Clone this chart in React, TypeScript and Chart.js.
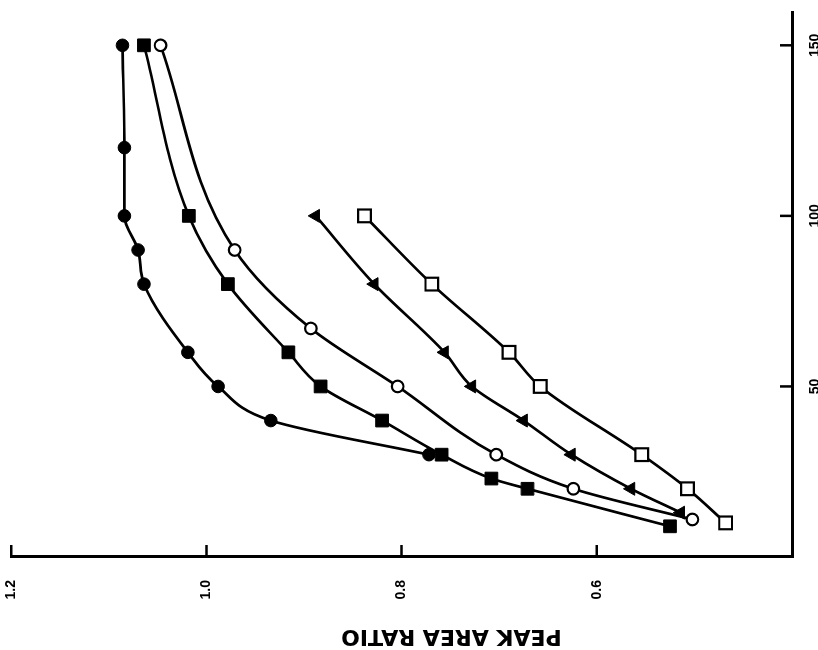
import React, { useEffect, useRef } from 'react';
import { Chart, registerables } from 'chart.js';

Chart.register(...registerables);

// Tick labels
const ratioTicks = [0.6, 0.8, 1.0, 1.2];
const timeTicks = [50, 100, 150];
const axisTitle = 'PEAK AREA RATIO';

// Series (time, peak area ratio)
const filledCircleTime = [30, 40, 50, 60, 80, 90, 100, 120, 150];
const filledCircleRatio = [0.772, 0.934, 0.988, 1.019, 1.064, 1.07, 1.084, 1.084, 1.086];

const filledSquareTime = [9, 20, 23, 30, 40, 50, 60, 80, 100, 150];
const filledSquareRatio = [0.525, 0.671, 0.708, 0.759, 0.82, 0.883, 0.916, 0.978, 1.018, 1.064];

const openCircleTime = [11, 20, 30, 50, 67, 90, 150];
const openCircleRatio = [0.502, 0.624, 0.703, 0.804, 0.893, 0.971, 1.047];

const triangleTime = [13, 20, 30, 40, 50, 60, 80, 100];
const triangleRatio = [0.514, 0.565, 0.626, 0.675, 0.728, 0.756, 0.828, 0.888];

const openSquareTime = [10, 20, 30, 50, 60, 80, 100];
const openSquareRatio = [0.468, 0.507, 0.554, 0.658, 0.69, 0.769, 0.838];

const pts = (t: number[], r: number[]) => t.map((x, i) => ({ x, y: r[i] }));

// Inward tick marks on both axes, placed through the scales
const inwardTicks = {
  id: 'inwardTicks',
  afterDatasetsDraw(chart: any) {
    const ctx = chart.ctx;
    const area = chart.chartArea;
    const xs = chart.scales.x;
    const ys = chart.scales.y;
    ctx.save();
    ctx.strokeStyle = '#000';
    ctx.lineWidth = 2.5;
    ctx.beginPath();
    timeTicks.forEach((v) => {
      const px = xs.getPixelForValue(v);
      ctx.moveTo(px, area.bottom);
      ctx.lineTo(px, area.bottom - 12);
    });
    ratioTicks.forEach((v) => {
      const py = ys.getPixelForValue(v);
      ctx.moveTo(area.left, py);
      ctx.lineTo(area.left + 12, py);
    });
    ctx.stroke();
    ctx.restore();
  },
};

export default function App() {
  const ref = useRef<HTMLCanvasElement>(null);

  useEffect(() => {
    const canvas = ref.current;
    if (!canvas) return;
    const base: any = {
      borderColor: '#000',
      borderWidth: 2.7,
      cubicInterpolationMode: 'monotone',
      pointBorderColor: '#000',
      pointHoverRadius: 0,
      fill: false,
    };
    const tickFont = { family: '"Liberation Sans", Arial, sans-serif', weight: 'bold' as const, size: 14 };
    const chart = new Chart(canvas, {
      type: 'line',
      data: {
        datasets: [
          { ...base, label: 'filled circle', data: pts(filledCircleTime, filledCircleRatio), pointStyle: 'circle', pointRadius: 6.3, pointBackgroundColor: '#000', pointBorderWidth: 1 },
          { ...base, label: 'filled square', data: pts(filledSquareTime, filledSquareRatio), pointStyle: 'rect', pointRadius: 9, pointBackgroundColor: '#000', pointBorderWidth: 1 },
          { ...base, label: 'open circle', data: pts(openCircleTime, openCircleRatio), pointStyle: 'circle', pointRadius: 5.8, pointBackgroundColor: '#fff', pointBorderWidth: 2.2 },
          { ...base, label: 'triangle', data: pts(triangleTime, triangleRatio), pointStyle: 'triangle', pointRadius: 7.5, pointBackgroundColor: '#000', pointBorderWidth: 1 },
          { ...base, label: 'open square', data: pts(openSquareTime, openSquareRatio), pointStyle: 'rect', pointRadius: 9, pointBackgroundColor: '#fff', pointBorderWidth: 2.2 },
        ],
      },
      options: {
        responsive: false,
        animation: false,
        devicePixelRatio: 1,
        layout: { padding: { top: 7, right: 8, left: 0, bottom: 0 } },
        plugins: { legend: { display: false }, tooltip: { enabled: false } },
        scales: {
          x: {
            type: 'linear',
            position: 'bottom',
            min: 0,
            max: 160,
            afterBuildTicks: (s: any) => { s.ticks = timeTicks.map((v) => ({ value: v })); },
            afterFit: (s: any) => { s.height = 26; s.paddingLeft = 0; s.paddingRight = 0; },
            grid: { display: false, drawOnChartArea: false, drawTicks: false },
            border: { display: true, color: '#000', width: 3 },
            ticks: { color: '#000', font: tickFont, padding: 15, maxRotation: 0, autoSkip: false },
          },
          y: {
            type: 'linear',
            position: 'left',
            min: 0.4,
            max: 1.2,
            afterBuildTicks: (s: any) => { s.ticks = ratioTicks.map((v) => ({ value: v })); },
            afterFit: (s: any) => { s.width = 93; s.paddingTop = 0; s.paddingBottom = 0; },
            grid: { display: false, drawOnChartArea: false, drawTicks: false },
            border: { display: true, color: '#000', width: 3 },
            ticks: { color: '#000', font: { ...tickFont, lineHeight: 1 }, padding: 23, autoSkip: false, callback: (v: any) => Number(v).toFixed(1) },
            title: {
              display: true,
              text: axisTitle + '             ',
              color: '#000',
              font: { family: '"DejaVu Sans", sans-serif', weight: 'bold', size: 22 },
              padding: { top: 1, bottom: 0 },
            },
          },
        },
      },
      plugins: [inwardTicks],
    });
    return () => chart.destroy();
  }, []);

  return (
    <div style={{ position: 'absolute', left: 0, top: 0, width: 818, height: 650, overflow: 'hidden', background: '#fff' }}>
      <canvas
        ref={ref}
        width={650}
        height={818}
        style={{
          position: 'absolute',
          left: 0,
          top: 0,
          width: 650,
          height: 818,
          transformOrigin: '0 0',
          transform: 'translateY(650px) rotate(-90deg)',
        }}
      />
    </div>
  );
}
